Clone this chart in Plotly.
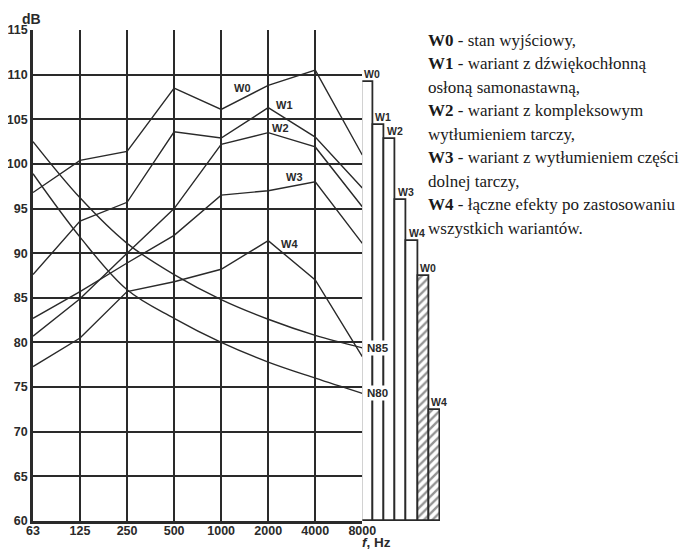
import plotly.graph_objects as go

# ---------------- data ----------------
freq_labels = ["63", "125", "250", "500", "1000", "2000", "4000", "8000"]
W0 = [96.8, 100.4, 101.4, 108.5, 106.1, 108.8, 110.5, 101.0]
W1 = [87.6, 93.6, 95.7, 103.6, 102.9, 106.3, 103.0, 97.3]
W2 = [80.7, 84.9, 90.0, 95.0, 102.2, 103.5, 101.9, 95.2]
W3 = [82.7, 85.7, 88.9, 92.0, 96.5, 97.0, 98.0, 91.1]
W4 = [77.3, 80.5, 85.7, 86.8, 88.2, 91.4, 87.0, 78.4]
N85 = [102.5, 96.2, 91.1, 87.6, 84.8, 82.6, 80.8, 79.4]
N80 = [98.9, 91.8, 85.9, 82.7, 80.0, 77.8, 76.0, 74.3]

bar_labels = ["W0", "W1", "W2", "W3", "W4", "W0", "W4"]
bar_values = [109.2, 104.4, 102.8, 96.0, 91.4, 87.4, 72.4]
bar_hatched = [False, False, False, False, False, True, True]

y_ticks = [60, 65, 70, 75, 80, 85, 90, 95, 100, 105, 110, 115]

legend_lines = [
    "<b>W0</b> - stan wyjściowy,",
    "<b>W1</b> - wariant z dźwiękochłonną",
    "osłoną samonastawną,",
    "<b>W2</b> - wariant z kompleksowym",
    "wytłumieniem tarczy,",
    "<b>W3</b> - wariant z wytłumieniem części",
    "dolnej tarczy,",
    "<b>W4</b> - łączne efekty po zastosowaniu",
    "wszystkich wariantów.",
]

# ---------------- figure ----------------
OFF = 8  # page body margin
W, H = 693 - OFF, 550 - OFF
ML, MT = 33 - OFF, 30 - OFF
PR, PB = 440 - OFF, 520.7 - OFF
MR, MB = W - PR, H - PB
PW = W - ML - MR
PH = H - MT - MB
split = (362.3 - OFF - ML) / PW

INK = "#2a2a2a"
SANS = "Liberation Sans, Arial, sans-serif"
SERIF = "Liberation Serif, Times New Roman, serif"

xi = list(range(len(freq_labels)))
fig = go.Figure()

series = [("W0", W0, "linear"), ("W1", W1, "linear"), ("W2", W2, "linear"),
          ("W3", W3, "linear"), ("W4", W4, "linear"),
          ("N85", N85, "spline"), ("N80", N80, "spline")]
for name, vals, shape in series:
    fig.add_trace(go.Scatter(x=xi, y=vals, mode="lines", name=name,
                             line=dict(color=INK, width=1.4, shape=shape),
                             xaxis="x", yaxis="y", showlegend=False))

bx = list(range(len(bar_values)))
fig.add_trace(go.Bar(
    x=bx, y=[v - 60 for v in bar_values], base=[60] * len(bar_values),
    width=1.0, xaxis="x2", yaxis="y2", showlegend=False,
    marker=dict(color="white",
                line=dict(color=INK, width=1.8),
                pattern=dict(shape=["/" if h else "" for h in bar_hatched],
                             fgcolor=INK, bgcolor="white", size=6,
                             solidity=0.4)),
))

annotations = []
curve_label_pos = [("W0", 4.45, 108.5), ("W1", 5.34, 106.6), ("W2", 5.27, 104.0),
                   ("W3", 5.55, 98.5), ("W4", 5.45, 91.0)]
for t, x, y in curve_label_pos:
    annotations.append(dict(x=x, y=y, xref="x", yref="y", text=f"<b>{t}</b>",
                            showarrow=False, font=dict(family=SANS, size=11, color=INK)))
for t, vals in [("N85", N85), ("N80", N80)]:
    annotations.append(dict(x=len(freq_labels) - 1, y=vals[-1], xref="x", yref="y",
                            text=f"<b>{t}</b>", showarrow=False, xanchor="left",
                            xshift=3, bgcolor="white", borderpad=1,
                            font=dict(family=SANS, size=11.5, color=INK)))
for i, (t, v) in enumerate(zip(bar_labels, bar_values)):
    annotations.append(dict(x=i - 0.5, y=v, xref="x2", yref="y2", text=f"<b>{t}</b>",
                            showarrow=False, xanchor="left", yanchor="bottom",
                            xshift=0, yshift=0,
                            font=dict(family=SANS, size=10.5, color=INK)))
annotations.append(dict(x=0, y=1, xref="paper", yref="paper", text="<b>dB</b>",
                        showarrow=False, xanchor="right", yanchor="bottom",
                        xshift=10, yshift=1,
                        font=dict(family=SANS, size=14, color=INK)))
annotations.append(dict(x=split, y=0, xref="paper", yref="paper",
                        text="<b><i>f</i>, Hz</b>", showarrow=False,
                        xanchor="left", yanchor="top", xshift=-2, yshift=-12,
                        font=dict(family=SANS, size=13.5, color=INK)))
for k, line in enumerate(legend_lines):
    py = 40 + 23.5 * k - OFF
    annotations.append(dict(x=(426 - OFF - ML) / PW, y=1 - (py - MT) / PH,
                            xref="paper", yref="paper", text=line,
                            showarrow=False, xanchor="left", yanchor="middle",
                            font=dict(family=SERIF, size=17, color="#1a1a1a")))

tickfont = dict(family=SANS, size=12.5, color=INK, weight="bold")
fig.update_layout(
    width=W, height=H,
    margin=dict(l=ML, r=MR, t=MT, b=MB, pad=0, autoexpand=False),
    paper_bgcolor="white", plot_bgcolor="white",
    bargap=0,
    xaxis=dict(domain=[0, split], range=[0, len(freq_labels) - 1],
               tickvals=xi, ticktext=freq_labels, tickfont=tickfont,
               showgrid=True, gridcolor=INK, gridwidth=2,
               showline=True, linecolor=INK, linewidth=2.6,
               zeroline=False, ticks="", anchor="y", fixedrange=True,
               automargin=False, ticklabelstandoff=-4),
    yaxis=dict(range=[60, 115], tickvals=y_ticks, tickfont=tickfont,
               showgrid=True, gridcolor=INK, gridwidth=2,
               showline=True, linecolor=INK, linewidth=2.6,
               zeroline=False, ticks="", anchor="x", fixedrange=True,
               automargin=False),
    xaxis2=dict(domain=[split, 1], range=[-0.5, len(bar_values) - 0.5],
                visible=False, anchor="y2", fixedrange=True),
    yaxis2=dict(range=[60, 115], visible=False, anchor="x2", fixedrange=True),
    annotations=annotations,
)

fig.write_html("out.html")
